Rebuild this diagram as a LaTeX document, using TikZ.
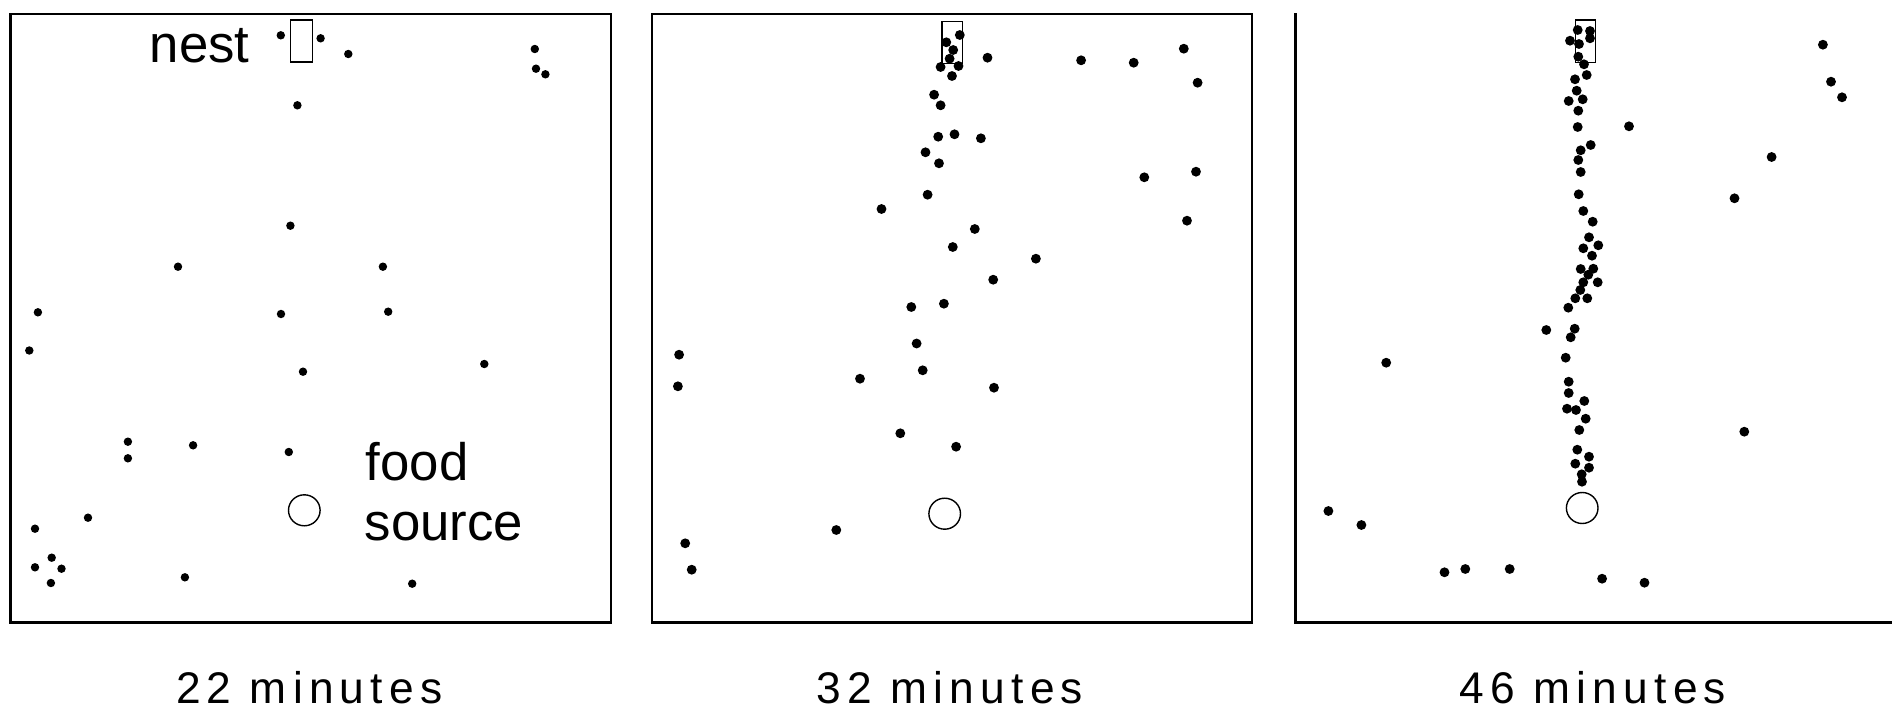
\documentclass[tikz,border=0pt]{standalone}
\usepackage{fontspec}
\setmainfont{Liberation Sans}
\begin{document}
\begin{tikzpicture}[x=0.01cm,y=-0.01cm,
  frame/.style={line width=0.75pt},
  fine/.style={line width=0.4pt},
  antA/.style={fill=black},
  lbl/.style={inner sep=0pt,anchor=base west,font=\fontsize{15}{18}\selectfont},
  timelbl/.style={inner sep=0pt,anchor=base,font=\fontsize{12.6}{15}\selectfont\addfontfeature{LetterSpace=14}}]
\useasboundingbox (0,0) rectangle (1902,718);

% panel frames
\draw[frame] (10.5,14) rectangle (611,622.5);
\draw[frame] (652,14) rectangle (1252,622.5);
\draw[frame] (1295.5,13) -- (1295.5,622.5) -- (1892,622.5);

% nests
\draw[fine] (290.5,20) rectangle (312.5,62);
\draw[fine] (942,21.3) rectangle (962.5,63.3);
\draw[fine] (1575.7,20) rectangle (1595.7,62.3);

% food sources
\draw[fine] (304.3,510.3) ellipse [x radius=15.8, y radius=15.5];
\draw[fine] (944.7,513.7) ellipse [x radius=15.8, y radius=15.5];
\draw[fine] (1582.2,508) ellipse [x radius=15.8, y radius=15.5];

% ants, panel 1
\foreach \p in {(280.8,35.3),(320.6,38.3),(348.3,54),(534.8,49),(536,68.7),(545.4,74.3),(297.4,105.3),(290.4,225.7),(178,266.7),(382.9,266.7),(37.9,312.3),(281,314),(388.2,311.7),(29.3,350.5),(484.3,364),(303,371.7),(127.9,441.7),(127.9,458.3),(193.1,445.3),(288.8,452),(88,517.7),(35,528.7),(51.7,557.7),(35,567.3),(61.5,568.7),(50.9,583),(184.9,577.3),(412.2,583.7)}
  \fill[antA] \p circle [radius=1.2pt];

% ants, panel 2
\foreach \p in {(959.8,35),(946.3,42.3),(953.2,50),(949.6,58.7),(940.6,67),(958.5,66),(952,76),(987.5,57.7),(1081.1,60.3),(1133.7,62.7),(1183.8,48.7),(1197.6,82.7),(934.1,94.7),(940.6,105.3),(938.2,136.7),(954.5,134.3),(980.9,138.3),(925.5,152.3),(939,163.3),(1144.3,177.3),(1196,171.7),(927.6,194.7),(881.5,209),(1187,220.7),(974.8,229),(952.8,247),(1035.9,258.7),(993.2,279.7),(911.3,307),(943.9,303.7),(916.6,343.5),(679.1,354.7),(677.9,386.3),(860,378.7),(922.7,370.3),(994,387.7),(900.3,433.3),(956.1,446.7),(836.3,530),(685.2,543.3),(691.7,569.7)}
  \fill[antA] \p circle [radius=1.4pt];

% ants, panel 3
\foreach \p in {(1577.7,30),(1590,31),(1590,38.3),(1570,40.7),(1579,44),(1578.3,56.7),(1584,64.3),(1586.7,75),(1575,79.3),(1576.7,90.7),(1568.7,101),(1582.7,99.3),(1578.3,110.7),(1577.7,127),(1629,126.3),(1590.7,145),(1580.7,150.3),(1578.3,160),(1580.7,172),(1578.7,194.3),(1583.3,211),(1592.7,221.7),(1589,237.3),(1598.3,245.3),(1583.3,248.3),(1592,255.7),(1580.7,269),(1593.3,268.7),(1588.3,274.7),(1583.3,282.3),(1597.7,282.3),(1580.3,290),(1575.3,298.3),(1587.3,298.3),(1568.3,307.7),(1546.3,330),(1574.7,328.7),(1570.7,337.3),(1565.7,357.7),(1568.7,381.7),(1568.7,393),(1584.3,401),(1567,408.7),(1576,410),(1585.7,418.7),(1579.3,430),(1577.3,449.7),(1589,456.7),(1575.3,463.7),(1589,467.7),(1581.7,474.3),(1582,481.7),(1822.9,44.7),(1831,81.7),(1842,97.3),(1771.6,157),(1734.5,198.3),(1386.2,362.7),(1744.3,431.7),(1328.4,511),(1361.4,525),(1444.5,572.3),(1465.3,569),(1509.7,569),(1602.1,578.7),(1644.5,582.7)}
  \fill[antA] \p circle [radius=1.4pt];

% labels
\node[lbl] (nestlbl) at (149,62) {nest};
\node[lbl] (foodlbl) at (365,480) {food};
\node[lbl] (sourcelbl) at (364,540.7) {source};
\node[timelbl] (t22) at (309.2,703.3) {22 minutes};
\node[timelbl] (t32) at (950,703.3) {32 minutes};
\node[timelbl] (t46) at (1593,703.3) {46 minutes};
\end{tikzpicture}
\end{document}
